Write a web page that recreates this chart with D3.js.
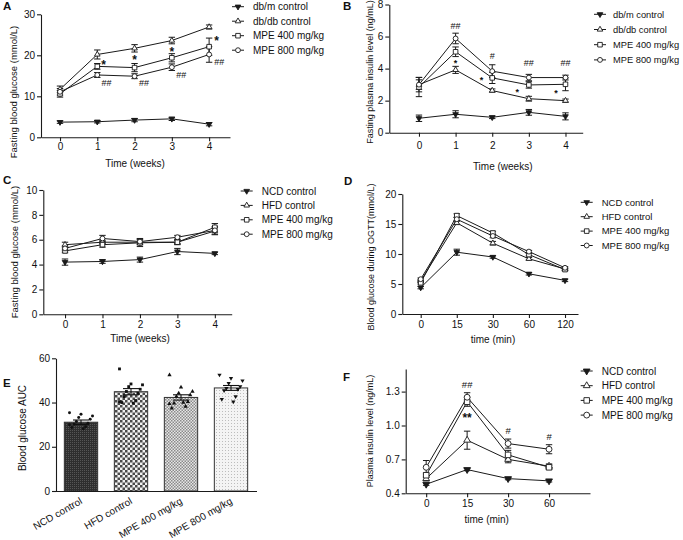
<!DOCTYPE html>
<html><head><meta charset="utf-8">
<script src="https://cdn.jsdelivr.net/npm/d3@7"></script>
<style>
body{margin:0;background:#fff}
text{font-family:"Liberation Sans",Arial,sans-serif;fill:#111}
</style>
</head><body>
<svg id="c" width="683" height="540"></svg>
<script>
// ---------------- data ----------------
const weekLabels = ["0","1","2","3","4"];
const ogttLabels = ["0","15","30","60","120"];
const insLabels  = ["0","15","30","60"];
const dbSeries   = ["db/m control","db/db control","MPE 400 mg/kg","MPE 800 mg/kg"];
const dietSeries = ["NCD control","HFD control","MPE 400 mg/kg","MPE 800 mg/kg"];

const aTicks = [0,10,20,30];
const aMean = [[3.7,3.8,4.2,4.5,3.2],[11.7,20.2,21.7,23.6,26.9],[10.6,17.3,17.0,19.4,22.1],[11.1,15.2,14.9,17.1,20.2]];
const aErr  = [[0.3,0.3,0.4,0.4,0.4],[0.8,1.1,0.9,0.8,0.5],[0.8,0.7,1.0,1.0,2.1],[0.8,0.6,0.6,0.8,1.9]];
const aNotes = [[1.17,18.4,"*"],[2,19.6,"*"],[3,21.6,"*"],[4.2,24.3,"*"],[1.25,13.3,"##"],[2.25,13.3,"##"],[3.25,15.3,"##"],[4.27,18.3,"##"]];

const bTicks = [0,2,4,6,8];
const bMean = [[0.9,1.15,0.96,1.27,1.02],[3.0,3.92,2.63,2.12,2.0],[2.85,5.05,3.42,2.98,3.02],[3.0,5.88,3.84,3.44,3.44]];
const bErr  = [[0.2,0.22,0.08,0.18,0.22],[0.3,0.22,0.1,0.15,0.1],[0.6,0.3,0.35,0.2,0.4],[0.45,0.33,0.4,0.2,0.15]];
const bNotes = [[1,6.67,"##"],[1,4.48,"*"],[2,4.8,"#"],[1.71,3.42,"*"],[3,4.36,"##"],[2.68,2.73,"*"],[4,4.36,"##"],[3.74,2.63,"*"]];

const cTicks = [0,2,4,6,8,10];
const cMean = [[4.2,4.25,4.4,5.05,4.9],[5.6,5.8,5.8,5.8,6.7],[5.1,5.6,5.75,5.8,7.0],[5.3,6.1,5.85,6.2,6.75]];
const cErr  = [[0.25,0.15,0.2,0.25,0.1],[0.2,0.15,0.2,0.15,0.3],[0.15,0.2,0.3,0.2,0.3],[0.2,0.25,0.25,0.15,0.3]];

const dTicks = [0,5,10,15,20];
const dMean = [[4.4,10.3,9.5,6.7,5.6],[5.5,15.2,11.8,9.2,7.5],[5.2,16.4,13.5,9.9,7.4],[5.8,15.8,13.0,10.4,7.7]];
const dErr  = [[0.2,0.5,0.2,0.2,0.2],[0.2,0.3,0.3,0.2,0.2],[0.2,0.3,0.3,0.2,0.2],[0.2,0.3,0.3,0.2,0.2]];

const eTicks = [0,20,40,60];
const eMean = [31.1,44.9,42.3,46.6];
const eErr  = [1.0,1.4,1.2,1.1];
const eDots = [
  [35.4,34.7,33.9,33.2,32.4,31.4,30.6,30.2,29.1,28.7,28.1,30.0],
  [55.2,48.4,48.0,47.2,46.0,45.0,44.2,42.7,40.9,40.0,39.7,40.4],
  [52.5,46.9,45.0,44.2,43.4,42.7,40.4,39.7,38.2,37.4,40.0,39.4],
  [52.5,51.0,49.9,48.7,47.2,46.5,46.0,45.4,42.7,41.5,40.4]
];

const fTicks = [0.4,0.7,1.0,1.3];
const fMean = [[0.48,0.61,0.53,0.51],[0.53,0.87,0.70,0.64],[0.56,1.21,0.74,0.63],[0.63,1.25,0.84,0.79]];
const fErr  = [[0.01,0.01,0.01,0.01],[0.02,0.08,0.03,0.02],[0.02,0.04,0.04,0.02],[0.06,0.04,0.04,0.04]];
const fNotes = [[1,1.36,"##"],[1,1.10,"**"],[2,0.95,"#"],[3,0.90,"#"]];

// ---------------- drawing ----------------
const svg = d3.select("#c");
const INK = "#1a1a1a";
const markerTypes = ["tdown","tup","square","circle"];

function marker(sel, type, size){
  let sym, rot = 0, fill = "#fff", s = size;
  if(type==="tdown"){sym=d3.symbolTriangle; rot=180; fill=INK; s=size*0.62;}
  else if(type==="tup"){sym=d3.symbolTriangle; s=size*0.62;}
  else if(type==="square"){sym=d3.symbolSquare; s=size*0.95;}
  else {sym=d3.symbolCircle; s=size*0.85;}
  return sel.append("path").attr("d", d3.symbol(sym, s)())
    .attr("transform", d => `translate(${d[0]},${d[1]}) rotate(${rot})`)
    .attr("fill", fill).attr("stroke", INK).attr("stroke-width", 0.9);
}

function styleAxis(g){
  g.selectAll("path.domain").attr("stroke", INK).attr("stroke-width", 1.1);
  g.selectAll(".tick line").attr("stroke", INK).attr("stroke-width", 1.1);
  g.selectAll(".tick text").attr("font-size", 10).attr("fill", INK)
    .attr("font-family", '"Liberation Sans",Arial,sans-serif');
}

function letter(t, x, y){
  svg.append("text").attr("x", x).attr("y", y).text(t)
    .attr("font-family", '"Liberation Serif","Times New Roman",serif')
    .attr("font-weight", "bold").attr("font-size", 11.5);
}

function linePanel(c){
  const x = d3.scaleLinear().domain(c.xDom).range(c.xRange);
  const y = d3.scaleLinear().domain(c.yDom).range(c.yRange);
  const g = svg.append("g");
  const ya = g.append("g").attr("transform", `translate(${c.xRange[0]},0)`)
    .call(d3.axisLeft(y).tickValues(c.yTicks).tickSize(4).tickSizeOuter(0).tickPadding(2)
      .tickFormat(c.yFmt || d3.format("d")));
  styleAxis(ya);
  const xa = g.append("g").attr("transform", `translate(0,${c.yRange[0]})`)
    .call(d3.axisBottom(x).tickValues(d3.range(c.cats.length)).tickFormat(i => c.cats[i])
      .tickSize(4).tickSizeOuter(0).tickPadding(c.xPad));
  styleAxis(xa);
  g.append("text").attr("text-anchor","middle").attr("font-size", 10)
    .attr("x", c.xLabel[0]).attr("y", c.xLabel[1]).text(c.xTitle);
  g.append("text").attr("text-anchor","middle").attr("font-size", c.yFont || 9.5)
    .attr("transform", `translate(${c.yLabel[0]},${c.yLabel[1]}) rotate(-90)`).text(c.yTitle);
  c.mean.forEach((s, si) => {
    const pts = s.map((v, i) => [x(i), y(v)]);
    const eg = g.append("g").attr("stroke", INK).attr("stroke-width", 1);
    s.forEach((v, i) => {
      const e = c.err[si][i];
      const x0 = x(i), y1 = y(v + e), y2 = y(v - e);
      eg.append("line").attr("x1", x0).attr("x2", x0).attr("y1", y1).attr("y2", y2);
      eg.append("line").attr("x1", x0 - 3.2).attr("x2", x0 + 3.2).attr("y1", y1).attr("y2", y1);
      eg.append("line").attr("x1", x0 - 3.2).attr("x2", x0 + 3.2).attr("y1", y2).attr("y2", y2);
    });
    g.append("path").attr("d", d3.line()(pts)).attr("fill","none").attr("stroke", INK).attr("stroke-width", 1);
  });
  c.mean.forEach((s, si) => {
    const pts = s.map((v, i) => [x(i), y(v)]);
    marker(g.append("g").selectAll("g").data(pts).join("g"), markerTypes[si], c.mSize);
  });
  (c.notes || []).forEach(n => {
    const star = n[2].indexOf("*") >= 0;
    g.append("text").attr("x", x(n[0])).attr("y", y(n[1])).attr("dy", star ? "0.62em" : "0.35em")
      .attr("text-anchor","middle").attr("font-size", star ? c.starFont : c.hashFont)
      .attr("font-weight", star ? "bold" : "normal").text(n[2]);
  });
  c.series.forEach((name, i) => {
    const ly = c.leg[2] + i * c.leg[3];
    g.append("line").attr("x1", c.leg[0]).attr("x2", c.leg[0] + 12).attr("y1", ly).attr("y2", ly)
      .attr("stroke", INK).attr("stroke-width", 1);
    marker(g.append("g").selectAll("g").data([[c.leg[0] + 6, ly]]).join("g"), markerTypes[i], c.mSize);
    g.append("text").attr("x", c.leg[1]).attr("y", ly).attr("dy", "0.35em")
      .attr("font-size", c.legFont || 10).text(name);
  });
}

// Panel A
linePanel({cats: weekLabels, xDom: [-0.51, 4.56], xRange: [41, 230], yDom: [0, 30], yRange: [137.3, 14.3],
  yTicks: aTicks, mean: aMean, err: aErr, notes: aNotes, series: dbSeries, xPad: 2,
  xTitle: "Time (weeks)", xLabel: [135, 167], yTitle: "Fasting blood glucose (mmol/L)", yLabel: [17, 92],
  leg: [232, 253, 6.7, 14.5], mSize: 22, starFont: 12, hashFont: 9});
letter("A", 3, 10);

// Panel B
linePanel({cats: weekLabels, xDom: [-0.81, 4.47], xRange: [389.3, 582.7], yDom: [0, 8], yRange: [132.7, 4.5],
  yTicks: bTicks, mean: bMean, err: bErr, notes: bNotes, series: dbSeries, xPad: 5,
  xTitle: "Time (weeks)", xLabel: [502.7, 169.5], yTitle: "Fasting plasma insulin level (ng/mL)", yLabel: [373, 72],
  yFont: 9, leg: [594, 613, 14.3, 15.2], mSize: 22, starFont: 9, hashFont: 9, legFont: 9.3});
letter("B", 343, 10);

// Panel C
linePanel({cats: weekLabels, xDom: [-0.58, 4.45], xRange: [43.3, 231.7], yDom: [0, 10], yRange: [314.3, 190],
  yTicks: cTicks, mean: cMean, err: cErr, series: dietSeries, xPad: 3,
  xTitle: "Time (weeks)", xLabel: [140, 341.5], yTitle: "Fasting blood glucose (mmol/L)", yLabel: [18, 252],
  leg: [240.7, 261.7, 191, 14.4], mSize: 22});
letter("C", 3, 184);

// Panel D
linePanel({cats: ogttLabels, xDom: [-0.51, 4.36], xRange: [402.3, 578], yDom: [0, 20], yRange: [314, 194],
  yTicks: dTicks, mean: dMean, err: dErr, series: dietSeries, xPad: 3,
  xTitle: "time (min)", xLabel: [493, 343], yTitle: "Blood glucose during OGTT(mmol/L)", yLabel: [373.5, 257],
  yFont: 9, leg: [580.7, 601.7, 202.3, 14.4], mSize: 22, legFont: 9.5});
letter("D", 344, 185);

// Panel F
linePanel({cats: insLabels, xDom: [-0.5, 4.0], xRange: [405.7, 590], yDom: [0.4, 1.5], yRange: [493.3, 369],
  yTicks: fTicks, yFmt: d3.format(".1f"), mean: fMean, err: fErr, notes: fNotes, series: dietSeries, xPad: 3,
  xTitle: "time (min)", xLabel: [486.7, 523], yTitle: "Plasma insulin level (ng/mL)", yLabel: [373, 431],
  yFont: 9, leg: [580.7, 601.7, 371, 14.7], mSize: 32, starFont: 12, hashFont: 9.5, legFont: 10});
letter("F", 343, 381);

// Panel E (bar chart)
(function(){
  const defs = svg.append("defs");
  const p1 = defs.append("pattern").attr("id","pNCD").attr("patternUnits","userSpaceOnUse").attr("width",2).attr("height",2);
  p1.append("rect").attr("width",2).attr("height",2).attr("fill","#2e2e2e");
  p1.append("rect").attr("width",1).attr("height",1).attr("fill","#555");
  const p2 = defs.append("pattern").attr("id","pHFD").attr("patternUnits","userSpaceOnUse").attr("width",5).attr("height",5);
  p2.append("rect").attr("width",5).attr("height",5).attr("fill","#f2f2f2");
  p2.append("rect").attr("width",2.5).attr("height",2.5).attr("fill","#4a4a4a");
  p2.append("rect").attr("x",2.5).attr("y",2.5).attr("width",2.5).attr("height",2.5).attr("fill","#4a4a4a");
  const p3 = defs.append("pattern").attr("id","p400").attr("patternUnits","userSpaceOnUse").attr("width",3).attr("height",3);
  p3.append("rect").attr("width",3).attr("height",3).attr("fill","#e6e6e6");
  p3.append("rect").attr("width",1.5).attr("height",1.5).attr("fill","#8a8a8a");
  p3.append("rect").attr("x",1.5).attr("y",1.5).attr("width",1.5).attr("height",1.5).attr("fill","#8a8a8a");
  const p4 = defs.append("pattern").attr("id","p800").attr("patternUnits","userSpaceOnUse").attr("width",3).attr("height",3);
  p4.append("rect").attr("width",3).attr("height",3).attr("fill","#f4f4f4");
  p4.append("rect").attr("width",1).attr("height",1).attr("fill","#bdbdbd");
  const fills = ["url(#pNCD)","url(#pHFD)","url(#p400)","url(#p800)"];

  const x = d3.scaleBand().domain(dietSeries).range([56, 256]).paddingInner(1/3).paddingOuter(1/6);
  const y = d3.scaleLinear().domain([0, 60]).range([491, 358.3]);
  const g = svg.append("g");
  g.selectAll("rect.bar").data(eMean).join("rect").attr("class","bar")
    .attr("x", (d,i) => x(dietSeries[i])).attr("width", x.bandwidth())
    .attr("y", d => y(d)).attr("height", d => y(0) - y(d))
    .attr("fill", (d,i) => fills[i]).attr("stroke", "#333").attr("stroke-width", 1);

  const dotTypes = ["circle","square","tup","tdown"];
  eDots.forEach((arr, si) => {
    const cx = x(dietSeries[si]) + x.bandwidth()/2;
    arr.forEach((v, i) => {
      const off = (((i * 5) % 11) - 5) * 2.3;
      const px = cx + off, py = y(v);
      const t = dotTypes[si];
      let sym = t==="circle" ? d3.symbolCircle : t==="square" ? d3.symbolSquare : d3.symbolTriangle;
      g.append("path").attr("d", d3.symbol(sym, t==="circle" ? 7 : 8)())
        .attr("transform", `translate(${px},${py}) rotate(${t==="tdown"?180:0})`).attr("fill", "#111");
    });
  });
  eMean.forEach((v, i) => {
    const cx = x(dietSeries[i]) + x.bandwidth()/2;
    const e = eErr[i];
    [v + e, v - e].forEach(val => g.append("line").attr("x1", cx - 8).attr("x2", cx + 8)
      .attr("y1", y(val)).attr("y2", y(val)).attr("stroke", "#111").attr("stroke-width", 1.1));
    g.append("line").attr("x1", cx).attr("x2", cx).attr("y1", y(v + e)).attr("y2", y(v - e))
      .attr("stroke", "#111").attr("stroke-width", 1.1);
  });

  const ya = g.append("g").attr("transform", "translate(56,0)")
    .call(d3.axisLeft(y).tickValues(eTicks).tickSize(4).tickSizeOuter(0).tickPadding(2));
  styleAxis(ya);
  const xa = g.append("g").attr("transform", `translate(0,${y(0)})`)
    .call(d3.axisBottom(x).tickSize(0).tickSizeOuter(0));
  styleAxis(xa);
  xa.select("path.domain").attr("d", "M56,0.5H257");
  xa.selectAll(".tick text").attr("x", 0).attr("y", 0).attr("dy", null)
    .attr("text-anchor", "end").attr("font-size", 10)
    .attr("transform", "translate(2,12) rotate(-30)");
  g.append("text").attr("text-anchor","middle").attr("font-size", 10)
    .attr("transform", "translate(26,428) rotate(-90)").text("Blood glucose AUC");
})();
letter("E", 3, 387);
</script>
</body></html>
